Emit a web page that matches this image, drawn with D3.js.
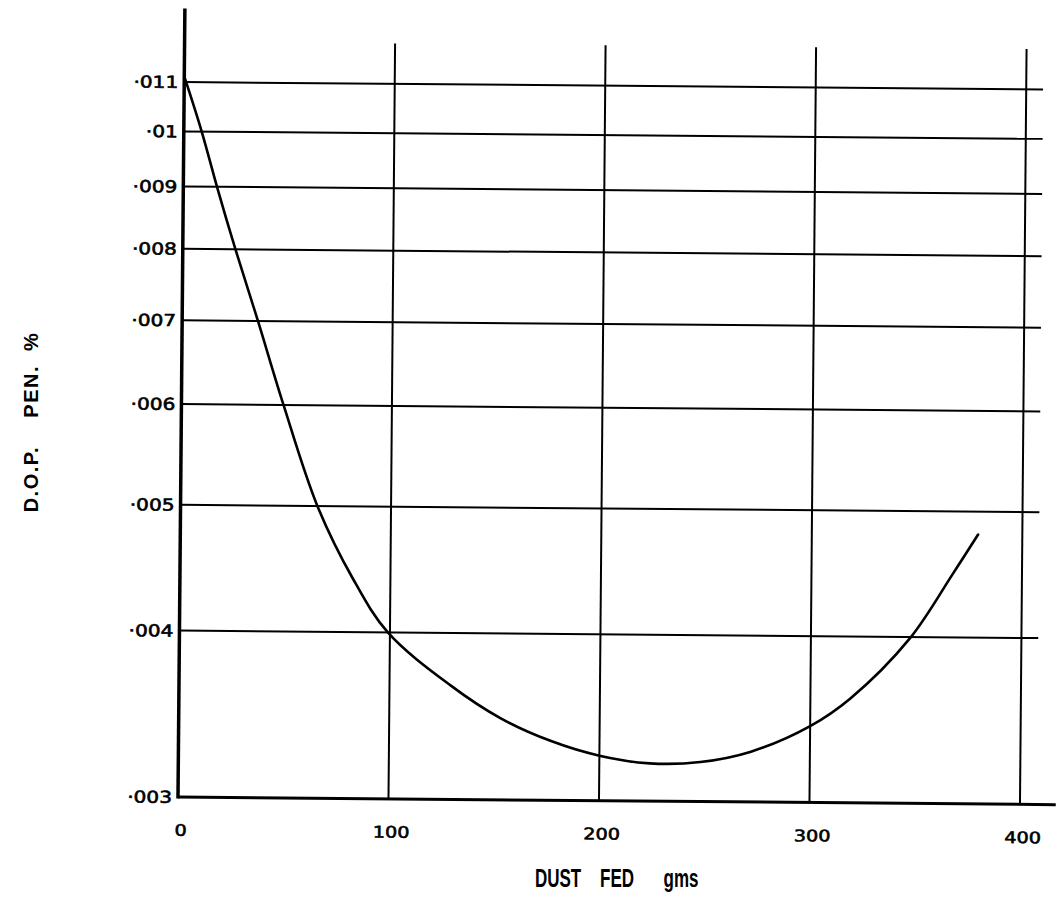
<!DOCTYPE html>
<html>
<head>
<meta charset="utf-8">
<script src="https://cdn.jsdelivr.net/npm/d3@7"></script>
<style>
  body { margin: 0; background: #fff; }
  text { fill: #000; }
</style>
</head>
<body>
<script>
// D.O.P. penetration vs dust fed - hand drawn chart, redrawn

var xTicks = [0, 100, 200, 300, 400];
var xTickLabels = ["0", "100", "200", "300", "400"];
var yTicks = [0.003, 0.004, 0.005, 0.006, 0.007, 0.008, 0.009, 0.01, 0.011];
var yTickLabels = ["·003", "·004", "·005", "·006", "·007", "·008", "·009", "·01", "·011"];
var xTitleWords = ["DUST", "FED", "gms"];

// curve
var dustFed = [0, 8.5, 16, 25, 36, 48.5, 65, 82, 99, 129, 153, 177, 200, 224, 248, 272, 300, 319, 347, 367, 379];
var dopPen = [0.01112, 0.010, 0.009, 0.008, 0.007, 0.006, 0.005, 0.0044, 0.004, 0.00365, 0.00345, 0.00332,
              0.00324, 0.00320, 0.00321, 0.00327, 0.00342, 0.00359, 0.00399, 0.00447, 0.0048];

var w = 1056, h = 922;

var svg = d3.select("body").append("svg")
  .attr("width", w)
  .attr("height", h);

svg.append("rect").attr("x", 0).attr("y", 0).attr("width", w).attr("height", h).style("fill", "#fff");

var x = d3.scaleLinear().domain([0, 400]).range([178, 1020]);
// the paper isn't quite log - a small negative power fits the grid better
var y = d3.scalePow().exponent(-0.1).domain([0.003, 0.011]).range([797, 82]);

// whole sheet is drawn slightly skew
var g = svg.append("g")
  .attr("transform", "rotate(0.5," + x(0) + "," + y(0.003) + ")");

// horizontal grid
g.selectAll(".hgrid")
  .data(yTicks.slice(1))
  .enter().append("line")
  .attr("class", "hgrid")
  .attr("x1", x(0)).attr("x2", x(408))
  .attr("y1", function(d){ return y(d); })
  .attr("y2", function(d){ return y(d); })
  .style("stroke", "#000").style("stroke-width", 2);

// vertical grid
g.selectAll(".vgrid")
  .data(xTicks.slice(1))
  .enter().append("line")
  .attr("class", "vgrid")
  .attr("x1", function(d){ return x(d); })
  .attr("x2", function(d){ return x(d); })
  .attr("y1", y(0.003)).attr("y2", y(0.0119))
  .style("stroke", "#000").style("stroke-width", 2);

// axes
g.append("line")
  .attr("x1", x(0)).attr("x2", x(0))
  .attr("y1", y(0.003) + 1.5).attr("y2", y(0.0127))
  .style("stroke", "#000").style("stroke-width", 3.5);

g.append("line")
  .attr("x1", x(0)).attr("x2", x(417))
  .attr("y1", y(0.003)).attr("y2", y(0.003))
  .style("stroke", "#000").style("stroke-width", 3);

// y tick labels - lettering is wide and round, so stretch it
g.selectAll(".ylab")
  .data(yTicks)
  .enter().append("text")
  .attr("class", "ylab")
  .attr("transform", function(d){ return "translate(" + (x(0) - 6) + "," + y(d) + ") scale(1.22,1)"; })
  .attr("dy", "0.36em")
  .attr("text-anchor", "end")
  .style("font-family", "DejaVu Sans, sans-serif")
  .style("font-size", "16.5px")
  .style("stroke", "#000")
  .style("stroke-width", 0.6)
  .text(function(d, i){ return yTickLabels[i]; });

// x tick labels
g.selectAll(".xlab")
  .data(xTicks)
  .enter().append("text")
  .attr("class", "xlab")
  .attr("transform", function(d){ return "translate(" + (x(d) + 3) + "," + (y(0.003) + 33) + ") scale(1.2,1)"; })
  .attr("dy", "0.36em")
  .attr("text-anchor", "middle")
  .style("font-family", "DejaVu Sans, sans-serif")
  .style("font-size", "16px")
  .style("stroke", "#000")
  .style("stroke-width", 0.6)
  .text(function(d, i){ return xTickLabels[i]; });

// the curve
var pts = dustFed.map(function(d, i){ return [d, dopPen[i]]; });
var line = d3.line()
  .x(function(d){ return x(d[0]); })
  .y(function(d){ return y(d[1]); })
  .curve(d3.curveCatmullRom.alpha(0.5));

g.append("path")
  .datum(pts)
  .attr("d", line)
  .style("fill", "none")
  .style("stroke", "#000")
  .style("stroke-width", 2.6)
  .style("stroke-linecap", "round");

// axis titles - x title words are spaced out by hand
var wordX = [558, 617, 681];
svg.selectAll(".xtitle")
  .data(xTitleWords)
  .enter().append("text")
  .attr("class", "xtitle")
  .attr("transform", function(d, i){ return "translate(" + wordX[i] + ",878) scale(0.68,1)"; })
  .attr("dy", "0.36em")
  .attr("text-anchor", "middle")
  .style("font-family", "Liberation Sans, Arial, sans-serif")
  .style("font-weight", "bold")
  .style("font-size", "25px")
  .text(function(d){ return d; });

svg.append("text")
  .attr("transform", "translate(31,422) rotate(-90)")
  .attr("text-anchor", "middle")
  .attr("dy", "0.36em")
  .style("font-family", "Liberation Sans, Arial, sans-serif")
  .style("font-weight", "bold")
  .style("font-size", "20px")
  .style("white-space", "pre")
  .style("letter-spacing", "1.5px")
  .text("D.O.P.    PEN.  %");
</script>
</body>
</html>
